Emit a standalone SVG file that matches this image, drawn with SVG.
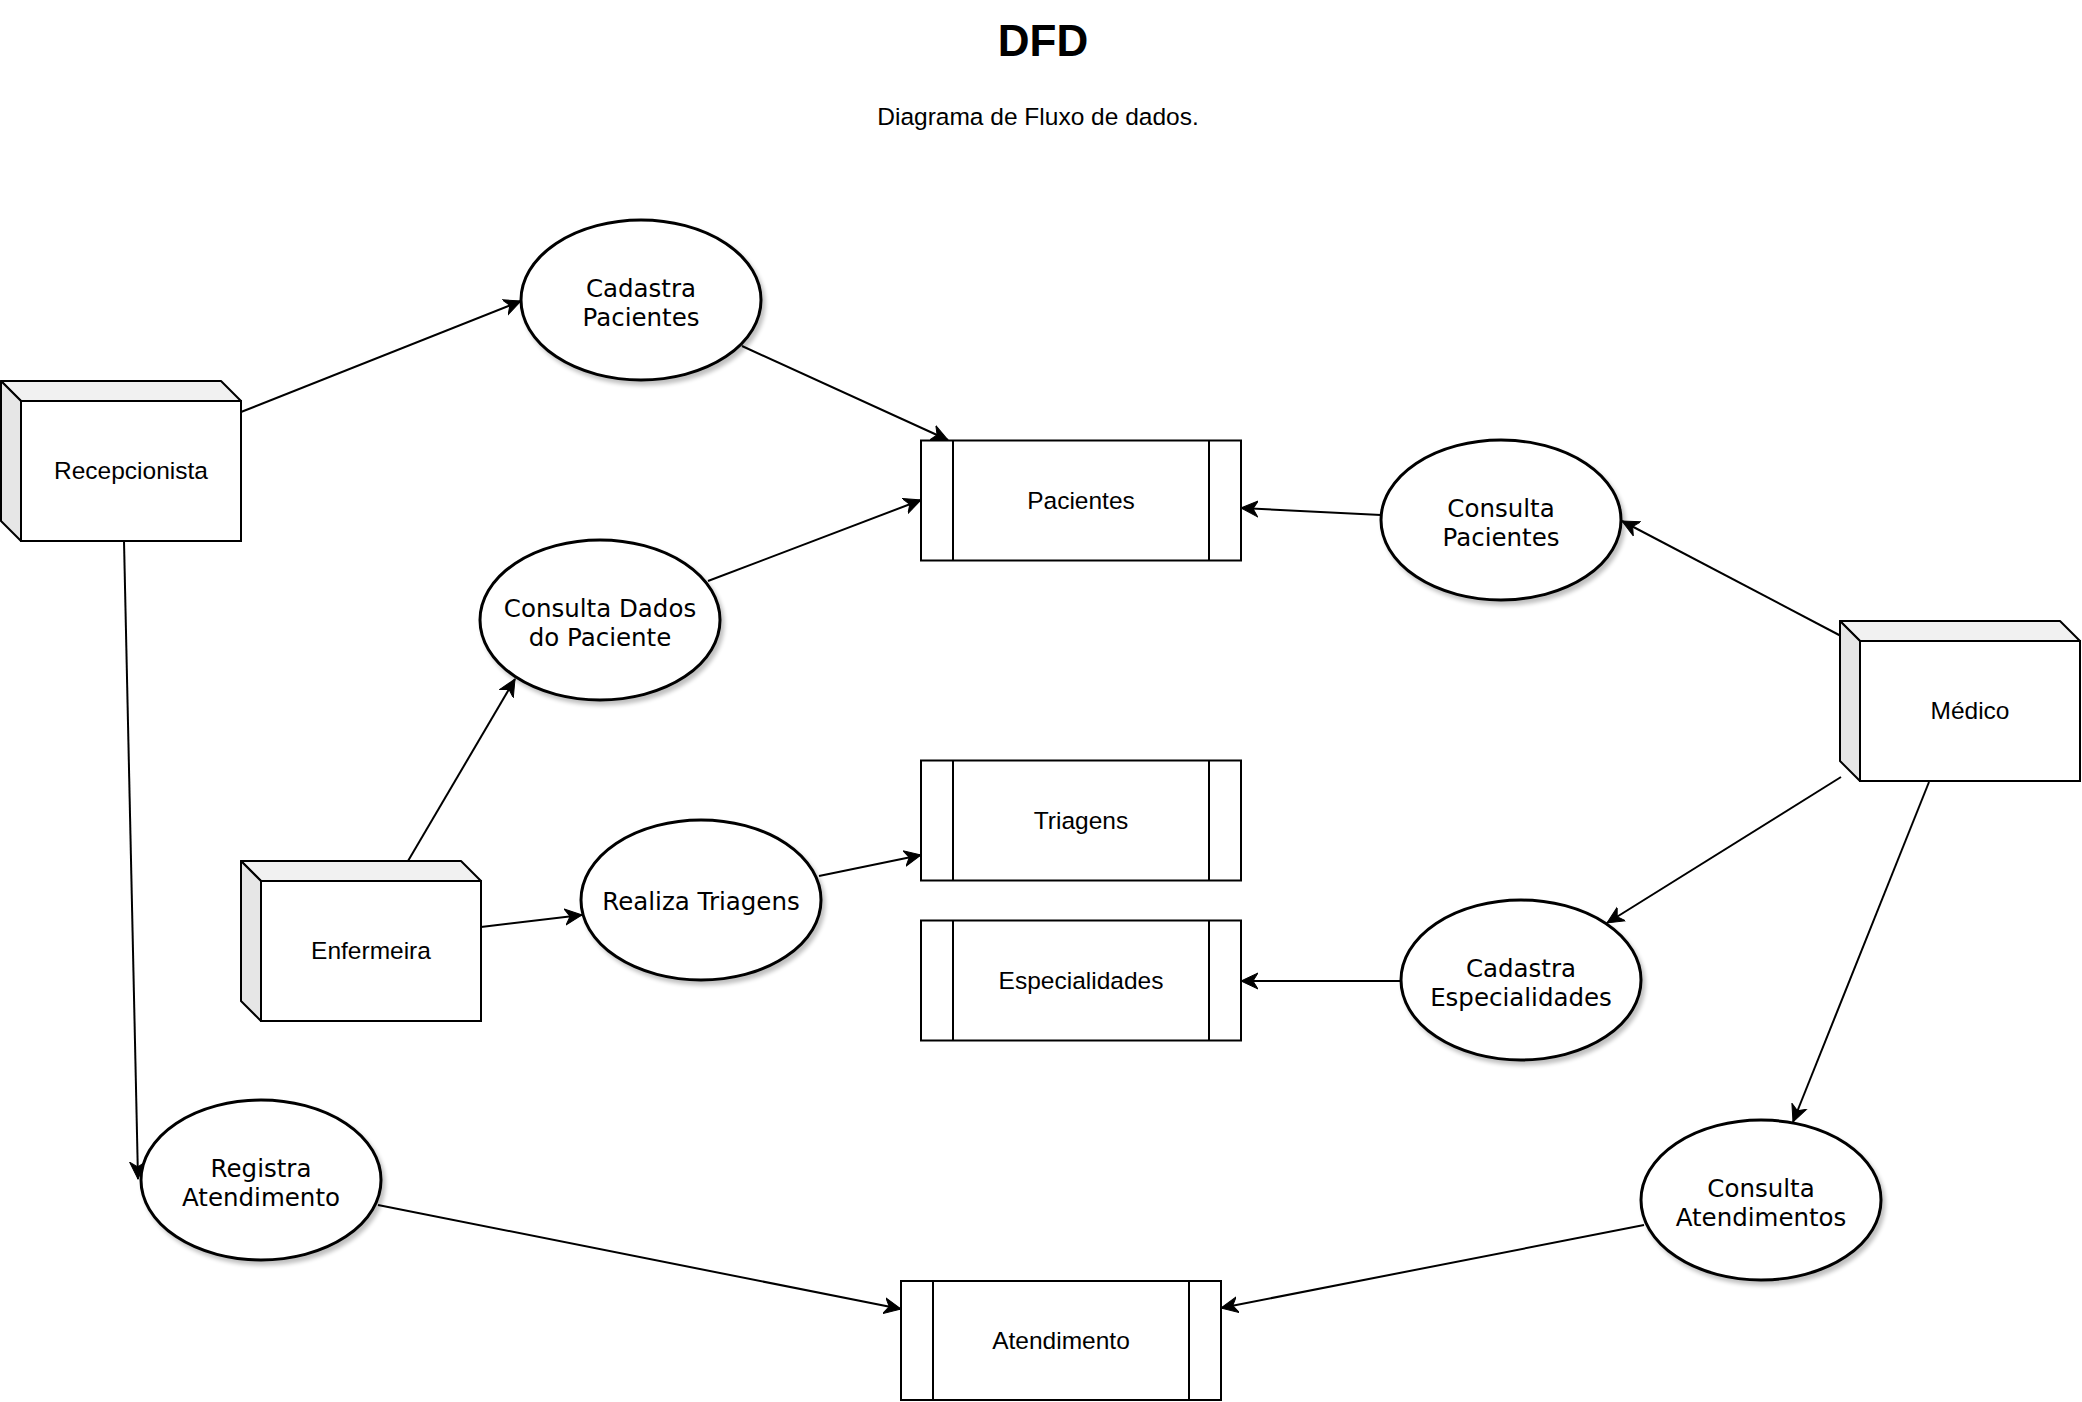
<svg xmlns="http://www.w3.org/2000/svg" width="2082" height="1402" viewBox="0 0 2082 1402">
<style>
  .bg { fill: #ffffff; }
  .proc { fill: #ffffff; stroke: #000000; stroke-width: 3; filter: url(#shadow); }
  .ptext { font-family: "DejaVu Sans", Verdana, sans-serif; font-size: 24.5px; fill: #000000; text-anchor: middle; }
  .store { fill: #ffffff; stroke: #000000; stroke-width: 2; }
  .sline { stroke: #000000; stroke-width: 2; fill: none; }
  .txt { font-family: "Liberation Sans", Arial, sans-serif; font-size: 24.5px; fill: #000000; text-anchor: middle; }
  .front { fill: #ffffff; stroke: #000000; stroke-width: 2; }
  .top { fill: #f1f1f1; stroke: #000000; stroke-width: 2; stroke-linejoin: round; }
  .left { fill: #e6e6e6; stroke: #000000; stroke-width: 2; stroke-linejoin: round; }
  .edge { stroke: #000000; stroke-width: 2; fill: none; marker-end: url(#arrow); }
  .title { font-family: "Liberation Sans", Arial, sans-serif; font-size: 44px; font-weight: bold; fill: #000000; text-anchor: middle; }
</style>
<defs>
  <filter id="shadow" x="-10%" y="-10%" width="130%" height="140%">
    <feGaussianBlur in="SourceAlpha" stdDeviation="2"/>
    <feOffset dx="3" dy="4" result="b"/>
    <feComponentTransfer><feFuncA type="linear" slope="0.25"/></feComponentTransfer>
    <feMerge><feMergeNode/><feMergeNode in="SourceGraphic"/></feMerge>
  </filter>
  <marker id="arrow" markerUnits="userSpaceOnUse" viewBox="0 0 18 18" refX="17" refY="9" markerWidth="18" markerHeight="18" orient="auto">
    <path d="M0,1 L17,9 L0,17 L5,9 Z" fill="#000000" stroke="#000000" stroke-width="1" stroke-linejoin="miter"/>
  </marker>
</defs>
<rect class="bg" x="0" y="0" width="2082" height="1402"/>

<g id="title">
  <text class="title" x="1043" y="56">DFD</text>
  <text class="txt" x="1038" y="125">Diagrama de Fluxo de dados.</text>
</g>

<g id="connectors">
  <line class="edge" x1="241" y1="412" x2="521" y2="301"/>
  <line class="edge" x1="742" y1="346" x2="948" y2="440"/>
  <line class="edge" x1="708" y1="581" x2="921" y2="500"/>
  <line class="edge" x1="1381" y1="515" x2="1241" y2="508"/>
  <line class="edge" x1="1841" y1="636" x2="1622" y2="521"/>
  <line class="edge" x1="408" y1="861" x2="515" y2="679"/>
  <line class="edge" x1="481" y1="927" x2="582" y2="915"/>
  <line class="edge" x1="819" y1="876" x2="921" y2="855"/>
  <line class="edge" x1="124" y1="541" x2="138" y2="1179"/>
  <line class="edge" x1="378" y1="1205" x2="901" y2="1309"/>
  <line class="edge" x1="1841" y1="777" x2="1607" y2="923"/>
  <line class="edge" x1="1929" y1="782" x2="1793" y2="1122"/>
  <line class="edge" x1="1400" y1="981" x2="1241" y2="981"/>
  <line class="edge" x1="1644" y1="1225" x2="1221" y2="1308"/>
</g>

<g id="recepcionista">
  <polygon class="top" points="1,381 221,381 241,401 21,401"/>
  <polygon class="left" points="1,381 21,401 21,541 1,521"/>
  <rect class="front" x="21" y="401" width="220" height="140"/>
  <text class="txt" x="131" y="479">Recepcionista</text>
</g>

<g id="enfermeira">
  <polygon class="top" points="241,861 461,861 481,881 261,881"/>
  <polygon class="left" points="241,861 261,881 261,1021 241,1001"/>
  <rect class="front" x="261" y="881" width="220" height="140"/>
  <text class="txt" x="371" y="959">Enfermeira</text>
</g>

<g id="medico">
  <polygon class="top" points="1840,621 2060,621 2080,641 1860,641"/>
  <polygon class="left" points="1840,621 1860,641 1860,781 1840,761"/>
  <rect class="front" x="1860" y="641" width="220" height="140"/>
  <text class="txt" x="1970" y="719">Médico</text>
</g>

<g id="cadastra-pacientes">
  <ellipse class="proc" cx="641" cy="300" rx="120" ry="80"/>
  <text class="ptext" x="641" y="297">Cadastra</text>
  <text class="ptext" x="641" y="326">Pacientes</text>
</g>

<g id="consulta-dados-paciente">
  <ellipse class="proc" cx="600" cy="620" rx="120" ry="80"/>
  <text class="ptext" x="600" y="617">Consulta Dados</text>
  <text class="ptext" x="600" y="646">do Paciente</text>
</g>

<g id="realiza-triagens">
  <ellipse class="proc" cx="701" cy="900" rx="120" ry="80"/>
  <text class="ptext" x="701" y="910">Realiza Triagens</text>
</g>

<g id="registra-atendimento">
  <ellipse class="proc" cx="261" cy="1180" rx="120" ry="80"/>
  <text class="ptext" x="261" y="1177">Registra</text>
  <text class="ptext" x="261" y="1206">Atendimento</text>
</g>

<g id="consulta-pacientes">
  <ellipse class="proc" cx="1501" cy="520" rx="120" ry="80"/>
  <text class="ptext" x="1501" y="517">Consulta</text>
  <text class="ptext" x="1501" y="546">Pacientes</text>
</g>

<g id="cadastra-especialidades">
  <ellipse class="proc" cx="1521" cy="980" rx="120" ry="80"/>
  <text class="ptext" x="1521" y="977">Cadastra</text>
  <text class="ptext" x="1521" y="1006">Especialidades</text>
</g>

<g id="consulta-atendimentos">
  <ellipse class="proc" cx="1761" cy="1200" rx="120" ry="80"/>
  <text class="ptext" x="1761" y="1197">Consulta</text>
  <text class="ptext" x="1761" y="1226">Atendimentos</text>
</g>

<g id="store-pacientes">
  <rect class="store" x="921" y="440.5" width="320" height="120"/>
  <line class="sline" x1="953" y1="440.5" x2="953" y2="560.5"/>
  <line class="sline" x1="1209" y1="440.5" x2="1209" y2="560.5"/>
  <text class="txt" x="1081" y="509">Pacientes</text>
</g>

<g id="store-triagens">
  <rect class="store" x="921" y="760.5" width="320" height="120"/>
  <line class="sline" x1="953" y1="760.5" x2="953" y2="880.5"/>
  <line class="sline" x1="1209" y1="760.5" x2="1209" y2="880.5"/>
  <text class="txt" x="1081" y="829">Triagens</text>
</g>

<g id="store-especialidades">
  <rect class="store" x="921" y="920.5" width="320" height="120"/>
  <line class="sline" x1="953" y1="920.5" x2="953" y2="1040.5"/>
  <line class="sline" x1="1209" y1="920.5" x2="1209" y2="1040.5"/>
  <text class="txt" x="1081" y="989">Especialidades</text>
</g>

<g id="store-atendimento">
  <rect class="store" x="901" y="1281" width="320" height="119"/>
  <line class="sline" x1="933" y1="1281" x2="933" y2="1400"/>
  <line class="sline" x1="1189" y1="1281" x2="1189" y2="1400"/>
  <text class="txt" x="1061" y="1349">Atendimento</text>
</g>
</svg>
